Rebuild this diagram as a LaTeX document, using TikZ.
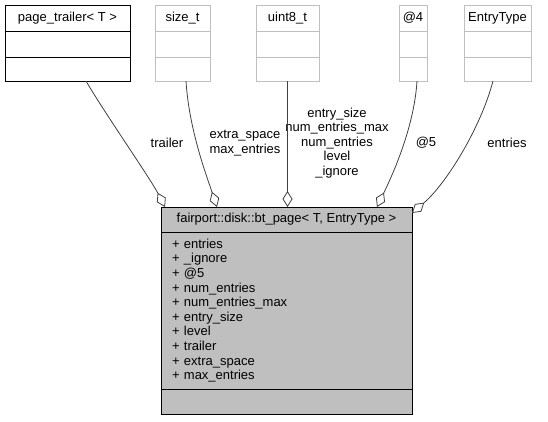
\documentclass[tikz,border=0pt]{standalone}
\usepackage{fontspec}
\setmainfont{Liberation Sans}
\usetikzlibrary{arrows.meta,calc}
\definecolor{lgray}{HTML}{BFBFBF}
\definecolor{cgray}{HTML}{404040}
\begin{document}
\begin{tikzpicture}[x=1pt,y=-1pt,
  every node/.style={font=\fontsize{13}{14.6}\selectfont, inner sep=0pt, outer sep=0pt},
  cell/.style={draw=lgray, line width=0.9pt, anchor=north west, minimum height=26pt},
  dcell/.style={cell, draw=black, line width=1pt},
  mcell/.style={draw=black, fill=lgray, line width=0.9pt, anchor=north west, minimum width=251pt},
  lbl/.style={align=center},
  conn/.style={draw=cgray, line width=0.8pt, -{Diamond[open, fill=white, length=16pt, width=10pt, line width=0.8pt]}}]
\path[use as bounding box] (0,0) rectangle (548,421);
% page_trailer
\node[dcell, minimum width=125pt] (pt1) at (5,5) {page\_trailer< T >};
\node[dcell, minimum width=125pt] (pt2) at (pt1.south west) {};
\node[dcell, minimum width=125pt, minimum height=24pt] (pt3) at (pt2.south west) {};
% size_t
\node[cell, minimum width=55pt] (st1) at (155,5) {size\_t};
\node[cell, minimum width=55pt] (st2) at (st1.south west) {};
\node[cell, minimum width=55pt, minimum height=24pt] (st3) at (st2.south west) {};
% uint8_t
\node[cell, minimum width=63pt] (ui1) at (256,5) {uint8\_t};
\node[cell, minimum width=63pt] (ui2) at (ui1.south west) {};
\node[cell, minimum width=63pt, minimum height=24pt] (ui3) at (ui2.south west) {};
% @4
\node[cell, minimum width=28pt] (a1) at (399,5) {@4};
\node[cell, minimum width=28pt] (a2) at (a1.south west) {};
\node[cell, minimum width=28pt, minimum height=24pt] (a3) at (a2.south west) {};
% EntryType
\node[cell, minimum width=67pt] (et1) at (464,5) {EntryType};
\node[cell, minimum width=67pt] (et2) at (et1.south west) {};
\node[cell, minimum width=67pt, minimum height=24pt] (et3) at (et2.south west) {};
% main class
\node[mcell, minimum height=25pt] (mt) at (161,207) {fairport::disk::bt\_page< T, EntryType >};
\node[mcell, minimum height=157pt, text width=229pt, inner xsep=11pt, align=left] (ma) at (mt.south west) {+ entries\\+ \_ignore\\+ @5\\+ num\_entries\\+ num\_entries\_max\\+ entry\_size\\+ level\\+ trailer\\+ extra\_space\\+ max\_entries};
\node[mcell, minimum height=25pt] (mo) at (ma.south west) {};
% labels
\node[lbl] (l1) at (167,143) {trailer};
\node[lbl] (l2) at (245,143) {extra\_space\\max\_entries};
\node[lbl] (l3) at (337,143) {entry\_size\\num\_entries\_max\\num\_entries\\level\\\_ignore};
\node[lbl] (l4) at (426,143) {@5};
\node[lbl] (l5) at (507,143) {entries};
% connectors
\draw[conn] ($(pt3.south)+(18.5,0)$) .. controls (104,112) and (150,178) .. ($(mt.north west)+(4,0)$);
\draw[conn] ($(st3.south)+(3.5,0)$) .. controls (189,130) and (207,177) .. ($(mt.north west)+(56,0)$);
\draw[conn] (ui3.south) -- (ui3.south |- mt.north);
\draw[conn] ($(a3.south)+(4,0)$) .. controls (414,130) and (390,180) .. ($(mt.north west)+(216,0)$);
\draw[conn] ($(et3.south)+(-4.5,0)$) .. controls (480,130) and (445,185) .. ($(mt.north east)+(0,6)$);
\end{tikzpicture}
\end{document}
